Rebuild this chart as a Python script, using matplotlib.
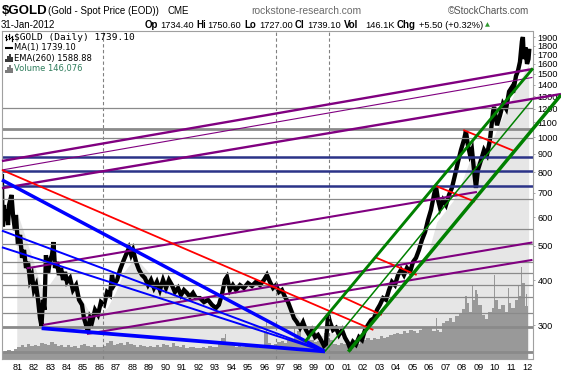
import numpy as np
import matplotlib
matplotlib.use("Agg")
import matplotlib.pyplot as plt
from matplotlib.lines import Line2D
from matplotlib.ticker import NullLocator

plt.rcParams['font.family'] = ['Liberation Sans', 'DejaVu Sans']

# ---------------- data ----------------
price_years = [
    1980.07, 1980.10, 1980.13, 1980.19, 1980.26, 1980.35, 1980.44, 1980.50, 1980.65, 1980.74,
    1980.86, 1980.92, 1981.04, 1981.17, 1981.29, 1981.41, 1981.53, 1981.65, 1981.77, 1981.89,
    1982.01, 1982.14, 1982.26, 1982.38, 1982.47, 1982.56, 1982.65, 1982.74, 1982.87, 1982.99,
    1983.11, 1983.20, 1983.29, 1983.41, 1983.53, 1983.66, 1983.78, 1983.90, 1984.02, 1984.20,
    1984.38, 1984.57, 1984.75, 1984.93, 1985.05, 1985.17, 1985.29, 1985.42, 1985.54, 1985.72,
    1985.90, 1986.08, 1986.27, 1986.45, 1986.63, 1986.75, 1986.87, 1987.06, 1987.24, 1987.42,
    1987.60, 1987.78, 1987.91, 1988.03, 1988.21, 1988.39, 1988.57, 1988.75, 1988.94, 1989.12,
    1989.30, 1989.48, 1989.66, 1989.85, 1990.03, 1990.21, 1990.39, 1990.57, 1990.76, 1990.94,
    1991.12, 1991.30, 1991.48, 1991.67, 1991.85, 1992.09, 1992.34, 1992.58, 1992.82, 1993.06,
    1993.24, 1993.42, 1993.61, 1993.73, 1993.91, 1994.09, 1994.28, 1994.52, 1994.76, 1995.01,
    1995.25, 1995.49, 1995.74, 1995.98, 1996.16, 1996.34, 1996.53, 1996.71, 1996.89, 1997.07,
    1997.25, 1997.44, 1997.62, 1997.80, 1997.98, 1998.17, 1998.35, 1998.53, 1998.71, 1998.89,
    1999.08, 1999.26, 1999.44, 1999.62, 1999.74, 1999.87, 1999.99, 2000.17, 2000.35, 2000.53,
    2000.72, 2000.90, 2001.08, 2001.20, 2001.38, 2001.56, 2001.75, 2001.93, 2002.11, 2002.30,
    2002.48, 2002.66, 2002.84, 2003.02, 2003.21, 2003.39, 2003.57, 2003.75, 2003.93, 2004.12,
    2004.30, 2004.48, 2004.66, 2004.85, 2005.03, 2005.21, 2005.39, 2005.57, 2005.76, 2005.94,
    2006.12, 2006.30, 2006.42, 2006.55, 2006.67, 2006.85, 2007.03, 2007.21, 2007.39, 2007.58,
    2007.76, 2007.94, 2008.12, 2008.24, 2008.36, 2008.49, 2008.61, 2008.73, 2008.85, 2008.97,
    2009.16, 2009.34, 2009.52, 2009.70, 2009.89, 2009.95, 2010.13, 2010.31, 2010.49, 2010.68,
    2010.86, 2011.04, 2011.10, 2011.28, 2011.40, 2011.52, 2011.64, 2011.70, 2011.76, 2011.85,
    2011.95, 2012.04, 2012.08]
price_close = [
    780, 600, 565, 648, 589, 628, 570, 648, 691, 608,
    552, 608, 502, 535, 462, 486, 433, 450, 401, 414,
    376, 388, 353, 314, 299, 353, 331, 470, 420, 455,
    471, 511, 433, 450, 414, 433, 401, 422, 396, 406,
    376, 388, 353, 342, 314, 301, 287, 314, 306, 331,
    321, 348, 342, 371, 364, 414, 388, 401, 428, 450,
    471, 492, 471, 486, 450, 428, 414, 406, 388, 401,
    381, 396, 376, 401, 381, 401, 388, 371, 381, 364,
    376, 369, 360, 369, 357, 357, 348, 353, 342, 335,
    342, 364, 401, 409, 376, 388, 376, 388, 381, 393,
    386, 396, 388, 401, 414, 396, 381, 388, 371, 376,
    360, 348, 331, 314, 306, 295, 306, 291, 282, 291,
    278, 282, 273, 263, 266, 321, 306, 291, 295, 282,
    291, 277, 268, 259, 270, 265, 278, 273, 291, 301,
    310, 314, 331, 342, 357, 353, 376, 396, 388, 414,
    428, 414, 433, 422, 450, 462, 486, 518, 545, 589,
    628, 691, 732, 669, 636, 669, 648, 691, 723, 786,
    854, 922, 983, 1041, 952, 893, 922, 811, 723, 811,
    865, 922, 893, 983, 1180, 1215, 1080, 1150, 1240, 1200,
    1340, 1380, 1330, 1480, 1530, 1620, 1850, 1900, 1650, 1780,
    1600, 1650, 1739]

ema_years = [1981.0, 1981.5, 1982.0, 1982.5, 1983.0, 1983.5, 1984.0, 1984.5, 1985.0, 1985.5,
             1986.0, 1986.5, 1987.0, 1987.5, 1988.0, 1988.5, 1989.0, 1989.5, 1990.0, 1990.5,
             1991.0, 1991.5, 1992.0, 1992.5, 1993.0, 1993.5, 1994.0, 1994.5, 1995.0, 1995.5,
             1996.0, 1996.5, 1997.0, 1997.5, 1998.0, 1998.5, 1999.0, 1999.5, 2000.0, 2000.5,
             2001.0, 2001.5, 2002.0, 2002.5, 2003.0, 2003.5, 2004.0, 2004.5, 2005.0, 2005.5,
             2006.0, 2006.5, 2007.0, 2007.5, 2008.0, 2008.5, 2009.0, 2009.5, 2010.0, 2010.5,
             2011.0, 2011.5, 2012.08]
ema_values = [620, 530, 450, 380, 390, 420, 410, 385, 350, 320,
              320, 335, 370, 420, 450, 445, 420, 390, 385, 385,
              375, 365, 355, 345, 338, 350, 370, 382, 384, 385,
              387, 390, 370, 345, 320, 300, 292, 280, 285, 282,
              273, 268, 278, 298, 322, 345, 375, 395, 415, 432,
              480, 580, 620, 665, 745, 860, 855, 905, 1010, 1140,
              1260, 1420, 1588]

# volume in thousands, one value per 0.2-year block starting 1980.1
vol_first_year = 1980.1
vol_block = 0.2
volume_k = [24, 28, 30, 26, 34, 40, 46, 42, 50, 44,
            48, 44, 56, 52, 46, 58, 50, 44, 48, 42,
            46, 40, 44, 38, 48, 52, 44, 40, 46, 42,
            40, 44, 56, 60, 48, 50, 54, 48, 58, 52,
            46, 42, 48, 44, 40, 44, 40, 46, 42, 50,
            48, 42, 54, 44, 40, 46, 38, 42, 40, 36,
            38, 42, 36, 44, 40, 42, 56, 70, 52, 48,
            46, 42, 44, 40, 48, 42, 40, 46, 38, 44,
            90, 56, 48, 52, 58, 62, 54, 70, 64, 76,
            96, 66, 60, 72, 64, 58, 62, 56, 88, 70,
            64, 52, 48, 56, 50, 54, 48, 56, 52, 60,
            64, 70, 66, 72, 68, 78, 70, 74, 82, 86,
            90, 84, 96, 88, 100, 94, 88, 98, 104, 108,
            106, 96, 100, 92, 122, 130, 138, 126, 146, 154,
            170, 190, 160, 200, 220, 185, 150, 135, 160, 175,
            200, 170, 185, 160, 190, 175, 200, 215, 260, 180]
vol_years = vol_first_year + vol_block * np.arange(len(volume_k))
spike_years = [1993.62, 1996.12, 1997.85, 1999.80, 2006.45, 2008.25, 2008.62, 2008.85,
               2009.98, 2010.85, 2011.45, 2011.62, 2011.90]
spike_k = [85, 126, 105, 118, 140, 215, 248, 235, 286, 240, 250, 313, 220]

y_ticks = [300, 400, 500, 600, 700, 800, 900, 1000, 1100, 1200, 1300, 1400,
           1500, 1600, 1700, 1800, 1900]
x_tick_years = list(range(1981, 2013))
x_tick_labels = ["%02d" % (y % 100) for y in x_tick_years]

gray_levels = [1204, 1053, 994, 672, 555, 504, 451, 419, 388, 359, 325, 297, 253]
navy_levels = [883, 807, 734]
marker_years = [1986.19, 1996.71, 1999.90]

# trend lines: (start year, start price, end year, end price)
purple_lines = [(1980.07, 859, 2012.28, 1548), (1980.07, 811, 2012.28, 1467),
                (1980.07, 721.5, 2014.01, 1319), (1981.57, 432, 2008.91, 704.6),
                (1982.56, 300.6, 2012.28, 509.9), (1985.23, 283.8, 2012.28, 456.0)]
red_lines = [(1980.07, 811, 2002.62, 291.1), (2000.70, 360.3, 2003.13, 320.5),
             (2002.72, 463.9, 2005.25, 414.1), (2006.36, 733.6, 2008.79, 662.1),
             (2008.08, 1047.9, 2011.12, 917.9)]
blue_lines = [(1980.07, 760.9, 1999.68, 253.7), (1980.07, 549.9, 1999.68, 253.7),
              (1980.07, 494.4, 1999.68, 253.7), (1982.48, 294.3, 1999.68, 253.7)]
green_lines = [(1998.47, 270.1, 2012.31, 1555.5), (1999.68, 253.7, 2012.25, 1269.6),
               (2001.10, 253.3, 2014.01, 1311)]

# ---------------- styles ----------------
gray_widths = [0.9, 2.0, 0.9, 0.9, 0.9, 0.9, 0.9, 0.9, 0.9, 0.9, 0.9, 2.0, 2.0]
purple_widths = [1.7, 0.8, 1.7, 1.5, 1.5, 1.5]
red_widths = [1.3, 1.3, 1.3, 1.3, 1.3]
blue_widths = [2.5, 1.4, 1.4, 2.7]
green_widths = [2.1, 1.1, 2.5]

W, H = 561, 376
fig = plt.figure(figsize=(W / 100, H / 100), dpi=100)
fig.patch.set_facecolor('white')


def fx(px):
    return px / W


def fy(py):
    return 1 - py / H


pos = [fx(2), fy(359), (532.5 - 2) / W, (359 - 31) / H]
XLIM = (1980.073, 2012.283)
YLIM = (241.7, 1975.2)

# background axes: EMA shading
ax_bg = fig.add_axes(pos)
ax_bg.set_yscale('log')
ax_bg.set_xlim(*XLIM)
ax_bg.set_ylim(*YLIM)
ax_bg.fill_between(ema_years, ema_values, 100, color='#e6e6e6', linewidth=0)
ax_bg.set_axis_off()

# volume axes
ax_vol = fig.add_axes(pos)
ax_vol.set_xlim(*XLIM)
ax_vol.set_ylim(0, 1115)
ax_vol.bar(vol_years, volume_k, width=vol_block, color='#999999', linewidth=0, align='center')
ax_vol.bar(spike_years, spike_k, width=0.07, color='#999999', linewidth=0, align='center')
ax_vol.patch.set_visible(False)
ax_vol.set_axis_off()

# main axes
ax = fig.add_axes(pos)
ax.patch.set_visible(False)
ax.set_yscale('log')
ax.set_xlim(*XLIM)
ax.set_ylim(*YLIM)

for lvl, lw in zip(gray_levels, gray_widths):
    ax.axhline(lvl, color='#8a8a8a', lw=lw, zorder=2.2)
for lvl in navy_levels:
    ax.axhline(lvl, color='#2b3388', lw=1.8, zorder=2.3)
for yr in marker_years:
    ax.axvline(yr, color='#808080', lw=0.8, dashes=(3, 2.2), zorder=2.1)

ax.plot(price_years, price_close, color='black', lw=3.1, zorder=2.0,
        solid_joinstyle='miter')


def draw_lines(lines, widths, color):
    for (x0, y0, x1, y1), lw in zip(lines, widths):
        ax.plot([x0, x1], [y0, y1], color=color, lw=lw, zorder=3,
                solid_capstyle='butt', clip_on=False)


draw_lines(purple_lines, purple_widths, '#800080')
draw_lines(blue_lines, blue_widths, '#0000ff')
draw_lines(red_lines, red_widths, '#ff0000')
draw_lines(green_lines, green_widths, '#008000')

for sp in ax.spines.values():
    sp.set_color('#a0a0a0')
    sp.set_linewidth(0.8)

ax.yaxis.tick_right()
ax.set_yticks(y_ticks, labels=[str(v) for v in y_ticks])
ax.yaxis.set_minor_locator(NullLocator())
ax.tick_params(axis='y', which='major', length=1.5, width=0.6, color='#999999',
               pad=2.0, labelsize=6.6, right=True, left=False)
ax.set_xticks(x_tick_years, labels=x_tick_labels)
ax.xaxis.set_minor_locator(NullLocator())
ax.tick_params(axis='x', length=0, pad=2.6, labelsize=6.6)

# ---------------- header ----------------
fig.text(fx(2), fy(11), "$GOLD", fontsize=9.5, fontweight='bold', va='center', ha='left')
fig.text(fx(48), fy(11.5), "(Gold - Spot Price (EOD))", fontsize=7, va='center', ha='left')
fig.text(fx(167), fy(11.5), "CME", fontsize=7, va='center', ha='left')
fig.text(fx(306), fy(11.5), "rockstone-research.com", fontsize=7.4, va='center', ha='center',
         color='#6a6a6a')
fig.text(fx(529), fy(11.5), "\u00a9StockCharts.com", fontsize=7, va='center', ha='right',
         color='#555555')

fig.text(fx(1), fy(25.5), "31-Jan-2012", fontsize=7, va='center', ha='left')
hdr = [(145, "Op", True), (160, "1734.40", False), (196, "Hi", True), (207.5, "1750.60", False),
       (244, "Lo", True), (259, "1727.00", False), (295, "Cl", True), (307, "1739.10", False),
       (344, "Vol", True), (365, "146.1K", False), (397, "Chg", True),
       (419, "+5.50 (+0.32%)", False)]
for xp, s, bold in hdr:
    fig.text(fx(xp), fy(25.5), s, fontsize=7 if bold else 6.7,
             fontweight='bold' if bold else 'normal', va='center', ha='left')
fig.text(fx(484.5), fy(25), "\u25b2", fontsize=4.6, va='center', ha='left',
         color='#2f9a2f', family='DejaVu Sans')

# ---------------- legend ----------------
def fline(xs, ys, **kw):
    fig.add_artist(Line2D([fx(v) for v in xs], [fy(v) for v in ys],
                          transform=fig.transFigure, **kw))


# OHLC glyph
for xb, (ylo, yhi) in zip([6, 9, 12], [(35, 40), (34, 39), (35.5, 40.5)]):
    fline([xb, xb], [ylo, yhi], color='black', lw=0.9)
    fline([xb - 1.3, xb], [ylo + 1.5, ylo + 1.5], color='black', lw=0.7)
    fline([xb, xb + 1.3], [yhi - 1.5, yhi - 1.5], color='black', lw=0.7)
fig.text(fx(13.5), fy(37.3), "$GOLD (Daily) 1739.10", fontsize=6.8, va='center', ha='left',
         family='DejaVu Sans Mono')

fline([5, 12.5], [47.5, 47.5], color='black', lw=1.5, solid_capstyle='butt')
fig.text(fx(13.5), fy(47.5), "MA(1) 1739.10", fontsize=6, va='center', ha='left',
         family='DejaVu Sans')


def bars_icon(ycen, color):
    for xb, hgt in zip([5.5, 7.5, 9.5, 11.5], [3, 6, 7.5, 4.5]):
        fline([xb, xb], [ycen + 3.5, ycen + 3.5 - hgt], color=color, lw=1.1,
              solid_capstyle='butt')


bars_icon(58.3, 'black')
fig.text(fx(14.5), fy(58.3), "EMA(260) 1588.88", fontsize=6, va='center', ha='left',
         family='DejaVu Sans')
bars_icon(69, '#555555')
fig.text(fx(14.5), fy(69), "Volume 146,076", fontsize=6, va='center', ha='left',
         family='DejaVu Sans', color='#2f7d5c')

fig.savefig("out.png", dpi=100, facecolor='white')
